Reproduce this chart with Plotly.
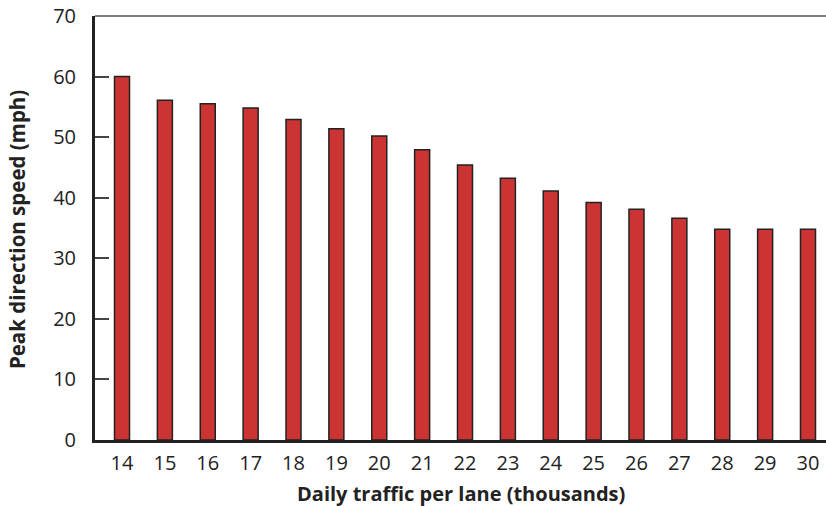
import plotly.graph_objects as go

traffic = ["14", "15", "16", "17", "18", "19", "20", "21", "22", "23", "24", "25", "26", "27", "28", "29", "30"]
speed = [60, 56.1, 55.5, 54.8, 52.9, 51.4, 50.2, 47.9, 45.4, 43.2, 41.1, 39.2, 38.1, 36.6, 34.8, 34.8, 34.8]
y_ticks = [0, 10, 20, 30, 40, 50, 60, 70]

FONT = "Open Sans"

fig = go.Figure(
    go.Bar(
        x=traffic,
        y=speed,
        width=0.35,
        marker=dict(color="#CC3333", line=dict(color="#222222", width=1.5)),
    )
)

fig.update_layout(
    width=826,
    height=506,
    margin=dict(l=95, r=0, t=16, b=66),
    paper_bgcolor="white",
    plot_bgcolor="white",
    showlegend=False,
    font=dict(family=FONT, color="#222222"),
    xaxis=dict(
        type="category",
        range=[-0.63, 16.42],
        automargin=False,
        showline=True,
        linecolor="#222222",
        linewidth=3,
        ticks="",
        showgrid=False,
        zeroline=False,
        tickfont=dict(size=20, family=FONT, color="#222222"),
        ticklabelstandoff=3,
    ),
    yaxis=dict(
        range=[0, 70],
        tickvals=y_ticks,
        automargin=False,
        showline=True,
        linecolor="#222222",
        linewidth=3,
        ticks="inside",
        ticklen=14,
        tickwidth=1.5,
        tickcolor="#444444",
        showgrid=False,
        zeroline=False,
        tickfont=dict(size=20, family=FONT, color="#222222"),
        ticklabelstandoff=12,
    ),
    shapes=[
        dict(type="line", xref="paper", yref="paper", x0=0, x1=1, y0=1, y1=1,
             line=dict(color="#555555", width=1.5))
    ],
    annotations=[
        dict(text="<b>Daily traffic per lane (thousands)</b>", xref="paper", yref="paper",
             x=0.5, y=-0.125, xanchor="center", yanchor="middle", showarrow=False,
             font=dict(size=20, family=FONT, color="#222222")),
        dict(text="<b>Peak direction speed (mph)</b>", xref="paper", yref="paper",
             x=-0.1067, y=0.495, xanchor="center", yanchor="middle", textangle=-90,
             showarrow=False, font=dict(size=20.5, family=FONT, color="#222222")),
    ],
)

fig.write_html("out.html", config={"displayModeBar": False},
               post_script="document.body.style.margin='0';")
